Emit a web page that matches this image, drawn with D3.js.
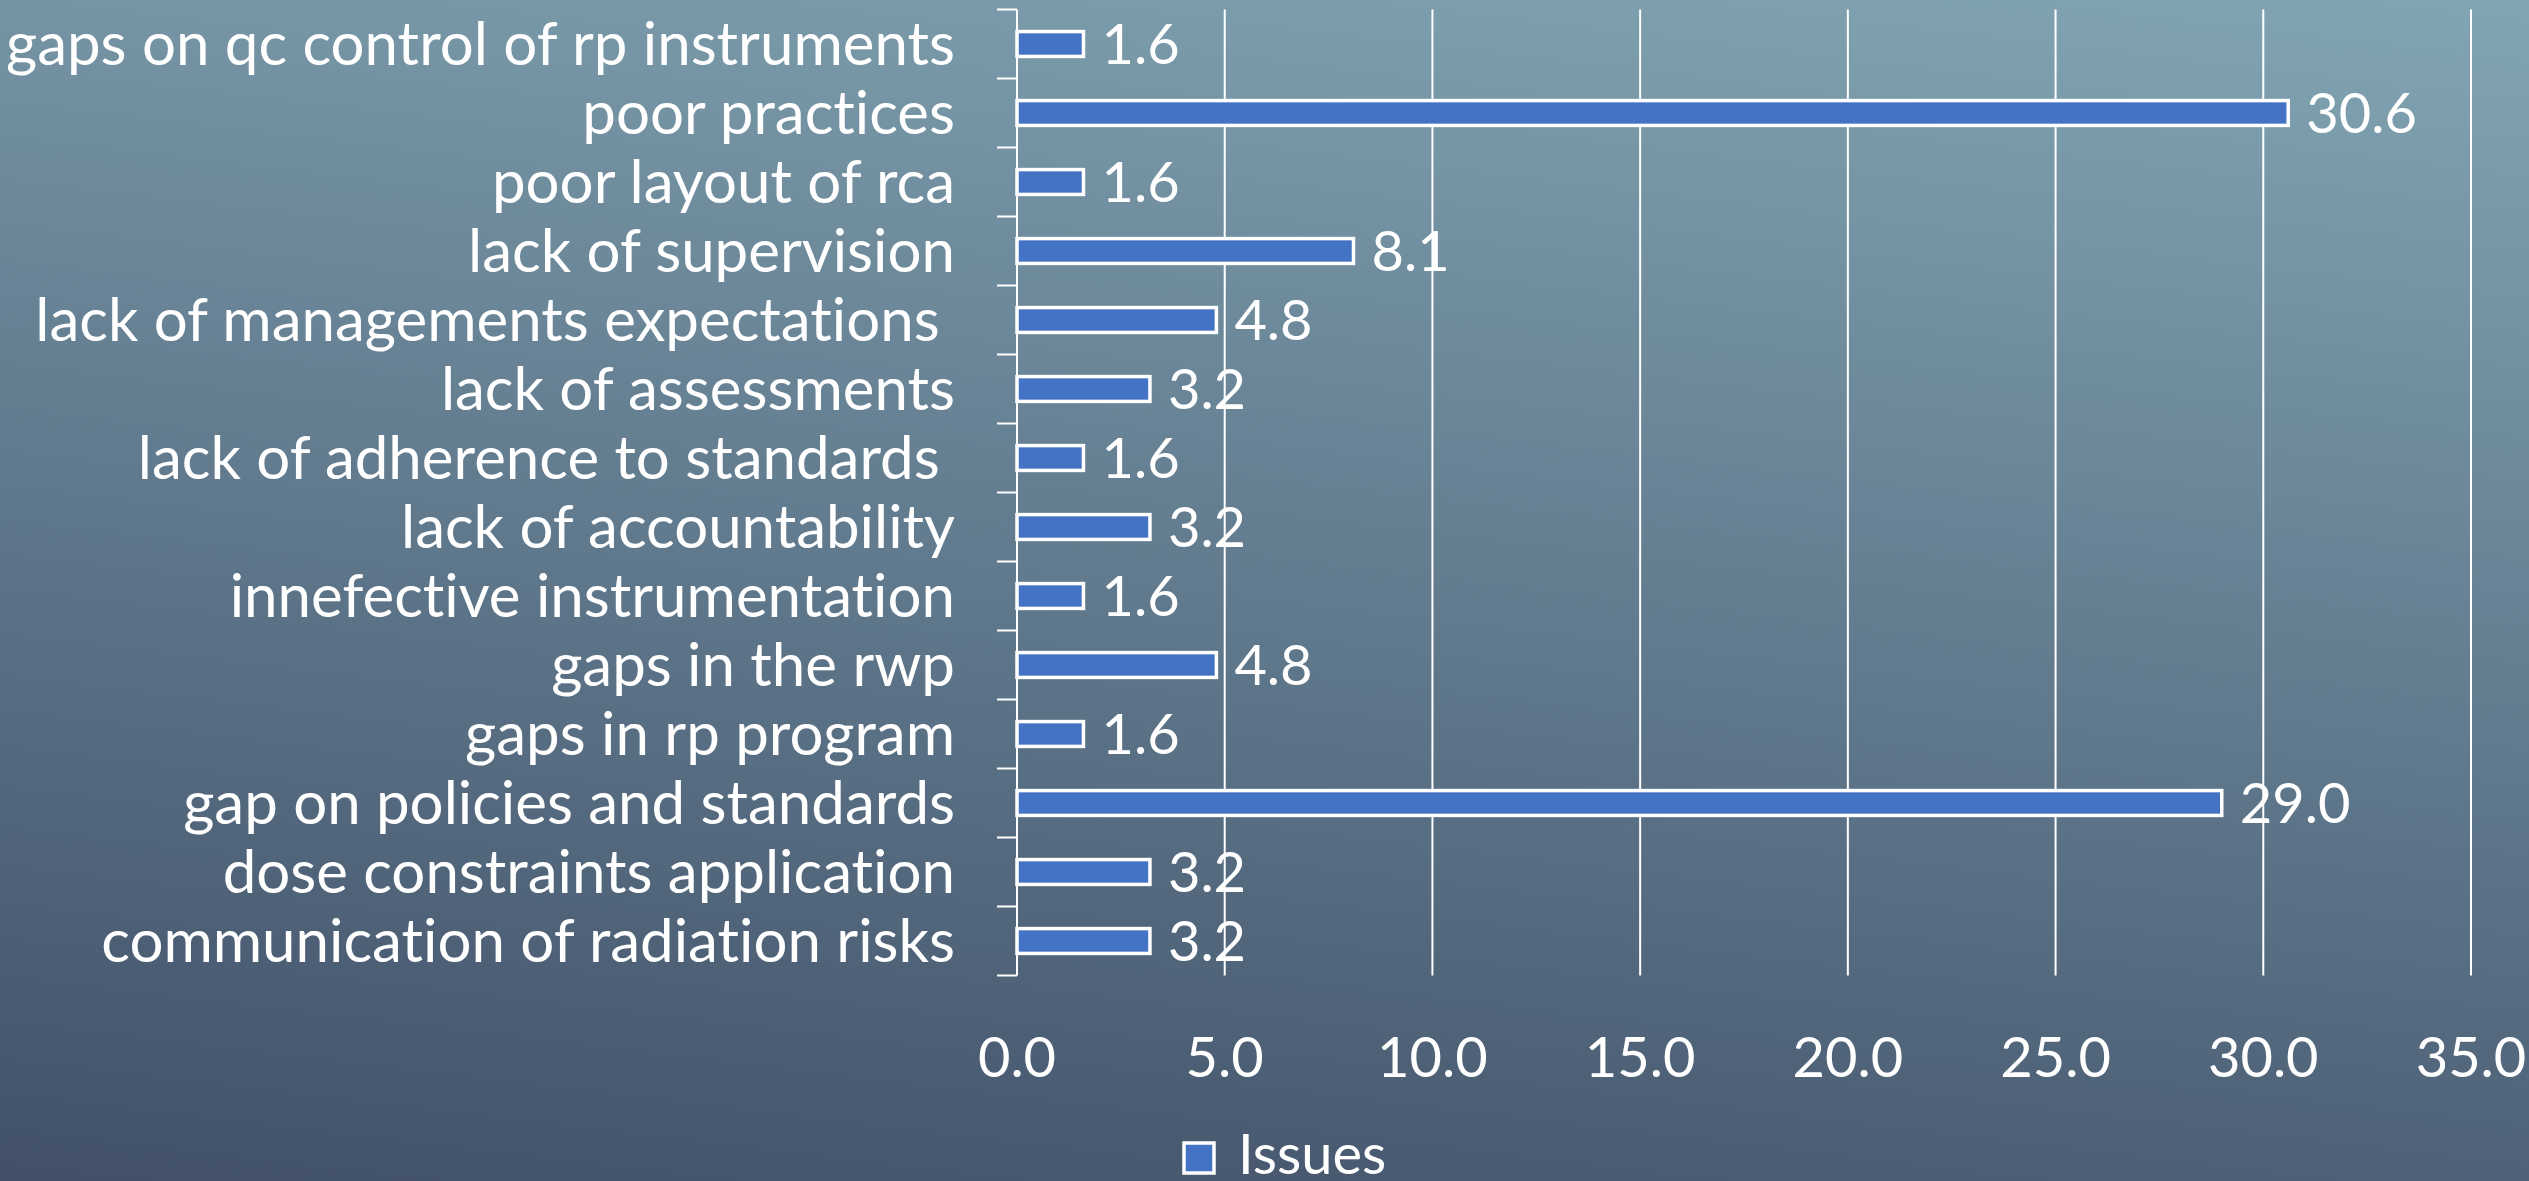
<!DOCTYPE html>
<html>
<head>
<meta charset="utf-8">
<script src="https://cdn.jsdelivr.net/npm/d3@7/dist/d3.min.js"></script>
<style>
  html, body { margin: 0; padding: 0; background: #5a7088; }
  svg { display: block; }
  text { font-family: Lato, "Open Sans", sans-serif; fill: #ffffff; white-space: pre;
         font-variant-ligatures: none; font-feature-settings: "liga" 0, "clig" 0; }
</style>
</head>
<body>
<svg id="chart" width="2529" height="1181"></svg>
<script>
const categories = [
  "gaps on qc control of rp instruments",
  "poor practices",
  "poor layout of rca",
  "lack of supervision",
  "lack of managements expectations ",
  "lack of assessments",
  "lack of adherence to standards ",
  "lack of accountability",
  "innefective instrumentation",
  "gaps in the rwp",
  "gaps in rp program",
  "gap on policies and standards",
  "dose constraints application",
  "communication of radiation risks"
];
const issues = [1.6, 30.6, 1.6, 8.1, 4.8, 3.2, 1.6, 3.2, 1.6, 4.8, 1.6, 29.0, 3.2, 3.2];
const xTicks = [0, 5, 10, 15, 20, 25, 30, 35];
const seriesName = "Issues";

const W = 2529, H = 1181;
const svg = d3.select("#chart");

// background gradient
const defs = svg.append("defs");
const grad = defs.append("linearGradient")
  .attr("id", "bg").attr("gradientUnits", "userSpaceOnUse")
  .attr("x1", 1177).attr("y1", 1320).attr("x2", 1351).attr("y2", -139);
grad.append("stop").attr("offset", 0).attr("stop-color", "#415068");
grad.append("stop").attr("offset", 1).attr("stop-color", "#82a5b3");
svg.append("rect").attr("width", W).attr("height", H).attr("fill", "url(#bg)");

const x = d3.scaleLinear().domain([0, 35]).range([1017, 2471]);
const y = d3.scaleBand().domain(categories).range([9.5, 975.5])
  .paddingInner(0.64).paddingOuter(0.32);

const fontSize = 56;
const catFontSize = 60;

// gridlines
svg.append("g").selectAll("line").data(xTicks.filter(d => d > 0)).join("line")
  .attr("x1", d => x(d)).attr("x2", d => x(d))
  .attr("y1", y.range()[0]).attr("y2", y.range()[1])
  .attr("stroke", "#ffffff").attr("stroke-width", 2);

// y axis line and category boundary ticks
const step = y.step();
const bounds = d3.range(categories.length + 1).map(i => y.range()[0] + i * step);
svg.append("line")
  .attr("x1", x(0)).attr("x2", x(0))
  .attr("y1", y.range()[0]).attr("y2", y.range()[1])
  .attr("stroke", "#ffffff").attr("stroke-width", 2);
svg.append("g").selectAll("line").data(bounds).join("line")
  .attr("x1", x(0) - 20).attr("x2", x(0))
  .attr("y1", d => d).attr("y2", d => d)
  .attr("stroke", "#ffffff").attr("stroke-width", 2);

// bars
svg.append("g").selectAll("rect").data(categories).join("rect")
  .attr("x", x(0))
  .attr("y", d => y(d))
  .attr("width", (d, i) => x(issues[i]) - x(0))
  .attr("height", y.bandwidth())
  .attr("fill", "#4472c4")
  .attr("stroke", "#ffffff").attr("stroke-width", 3.5);

// value labels
svg.append("g").selectAll("text").data(categories).join("text")
  .attr("x", (d, i) => x(issues[i]) + 18)
  .attr("y", d => y(d) + y.bandwidth() / 2)
  .attr("dy", "0.36em")
  .attr("font-size", fontSize)
  .text((d, i) => issues[i].toFixed(1));

// category labels
svg.append("g").selectAll("text").data(categories).join("text")
  .attr("x", x(0) - 62)
  .attr("y", d => y(d) + y.bandwidth() / 2)
  .attr("dy", "0.35em")
  .attr("text-anchor", "end")
  .attr("font-size", catFontSize)
  .text(d => d);

// x tick labels
svg.append("g").selectAll("text").data(xTicks).join("text")
  .attr("x", d => x(d))
  .attr("y", 1077)
  .attr("text-anchor", "middle")
  .attr("font-size", fontSize)
  .text(d => d.toFixed(1));

// legend
const lg = svg.append("g");
lg.append("rect").attr("x", 1184).attr("y", 1143).attr("width", 30).attr("height", 30)
  .attr("fill", "#4472c4").attr("stroke", "#ffffff").attr("stroke-width", 3.5);
lg.append("text").attr("x", 1238).attr("y", 1174).attr("font-size", fontSize).text(seriesName);
</script>
</body>
</html>
